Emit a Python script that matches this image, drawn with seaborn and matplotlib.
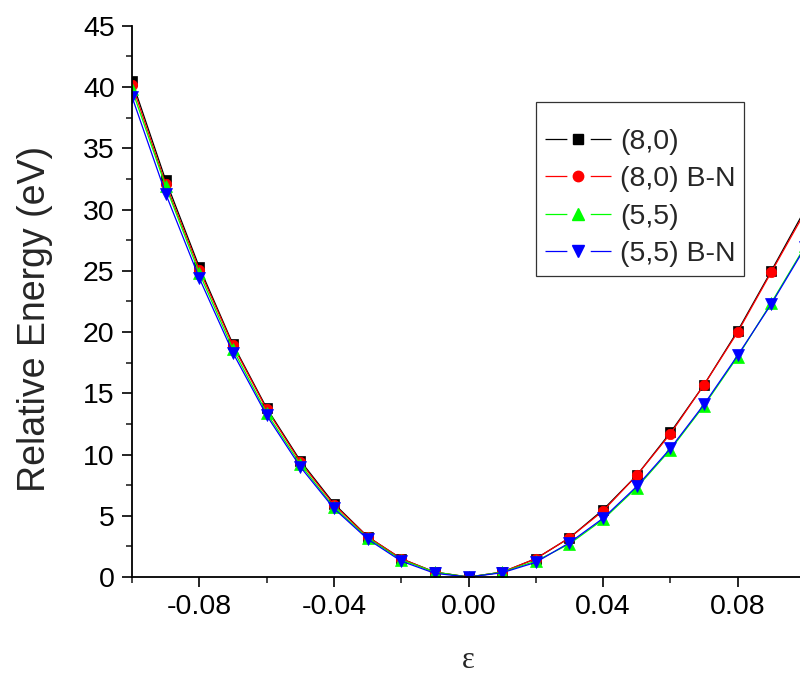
import matplotlib
matplotlib.use("Agg")
import matplotlib.pyplot as plt
import seaborn as sns
import pandas as pd
from matplotlib.lines import Line2D
from matplotlib.ticker import MultipleLocator

strain = [-0.10, -0.09, -0.08, -0.07, -0.06, -0.05, -0.04, -0.03, -0.02, -0.01,
          0.00, 0.01, 0.02, 0.03, 0.04, 0.05, 0.06, 0.07, 0.08, 0.09, 0.10]
e_80 = [40.5, 32.4, 25.3, 19.0, 13.8, 9.5, 6.0, 3.3, 1.5, 0.4,
        0.0, 0.4, 1.5, 3.2, 5.5, 8.3, 11.8, 15.7, 20.1, 25.0, 30.0]
e_80_bn = [40.2, 32.1, 25.1, 18.9, 13.7, 9.4, 5.9, 3.3, 1.5, 0.4,
           0.0, 0.4, 1.5, 3.2, 5.4, 8.3, 11.7, 15.7, 20.0, 24.9, 29.8]
e_55 = [39.8, 31.9, 24.8, 18.6, 13.4, 9.2, 5.7, 3.2, 1.4, 0.4,
        0.0, 0.4, 1.3, 2.7, 4.7, 7.3, 10.4, 14.0, 18.0, 22.4, 27.0]
e_55_bn = [39.2, 31.3, 24.4, 18.3, 13.2, 9.0, 5.6, 3.1, 1.3, 0.3,
           0.0, 0.35, 1.2, 2.8, 4.8, 7.4, 10.5, 14.1, 18.1, 22.3, 26.9]

labels = ["(8,0)", "(8,0) B-N", "(5,5)", "(5,5) B-N"]
series = [e_80, e_80_bn, e_55, e_55_bn]
colors = ["#000000", "#FF0000", "#00FF00", "#0000FF"]
markers = ["s", "o", "^", "v"]
msizes = [6.5, 7.5, 8, 8]

sns.set_style("ticks")
plt.rcParams["font.family"] = ["Liberation Sans", "DejaVu Sans"]

fig = plt.figure(figsize=(8.0, 6.76), dpi=100)
ax = fig.add_axes([0.165, 0.1464, 0.835, 0.8155])

for lab, ys, c, m, ms in zip(labels, series, colors, markers, msizes):
    df = pd.DataFrame({"x": strain, "y": ys})
    sns.lineplot(data=df, x="x", y="y", ax=ax, color=c, marker=m,
                 markersize=ms, markeredgecolor=c, markeredgewidth=0.5,
                 linewidth=0.9, legend=False)

ax.set_xlim(-0.1, 0.0985)
ax.set_ylim(0, 45)
ax.xaxis.set_minor_locator(MultipleLocator(0.02))
ax.yaxis.set_major_locator(MultipleLocator(5))
ax.yaxis.set_minor_locator(MultipleLocator(2.5))
ax.set_xticks([-0.08, -0.04, 0.0, 0.04, 0.08])
ax.set_xticklabels(["-0.08", "-0.04", "0.00", "0.04", "0.08"])
ax.tick_params(axis="both", which="major", direction="out", length=7.5,
               width=1.2, labelsize=20.5, colors="black", pad=5)
ax.tick_params(axis="both", which="minor", direction="out", length=4,
               width=1.2)
for s in ["top", "right"]:
    ax.spines[s].set_visible(False)
for s in ["left", "bottom"]:
    ax.spines[s].set_linewidth(1.3)
    ax.spines[s].set_color("black")

ax.set_ylabel("Relative Energy (eV)", fontsize=27, va="center")
ax.yaxis.set_label_coords(-0.145, 0.468)
ax.set_xlabel("ε", fontsize=22, family=["Liberation Serif", "DejaVu Serif"],
              va="baseline")
ax.xaxis.set_label_coords(0.504, -0.165)

handles = [Line2D([], [], color=c, marker=m, markersize=ms, markeredgecolor=c,
                  linewidth=0.9, linestyle=(0, (17.5, 18.7)))
           for c, m, ms in zip(colors, markers, msizes)]
leg = ax.legend(handles, labels, loc="upper left",
                bbox_to_anchor=((536 - 132) / 668.0, (577 - 102) / 551.3),
                fontsize=20.5, frameon=True, fancybox=False, shadow=False,
                title=" ", title_fontsize=5,
                handlelength=2.35, handletextpad=0.3, labelspacing=0.4,
                borderpad=0.3, borderaxespad=0.0)
leg.get_frame().set_edgecolor("black")
leg.get_frame().set_linewidth(0.9)

fig.savefig("out.png", dpi=100)
